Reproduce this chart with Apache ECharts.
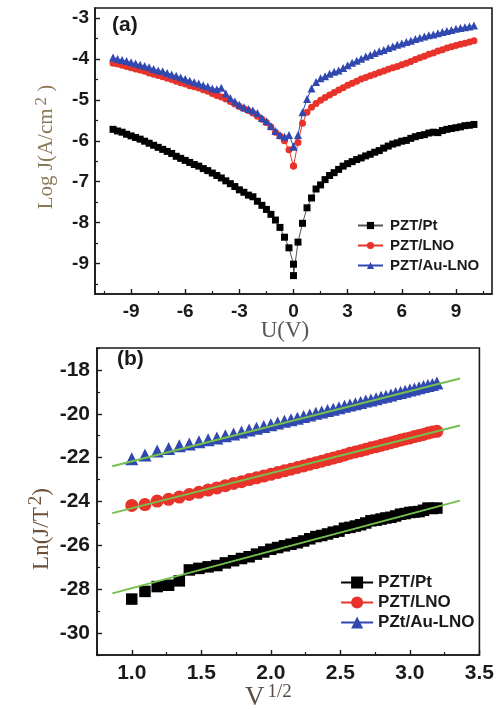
<!DOCTYPE html>
<html><head><meta charset="utf-8">
<script src="https://cdn.jsdelivr.net/npm/echarts@6/dist/echarts.min.js"></script>
<style>html,body{margin:0;padding:0;background:#fff}#c{width:497px;height:710px}</style>
</head><body><div id="c"></div>
<script>
// ---- Panel (a): Log J vs U ----
const voltsA = [-10,-9.75,-9.5,-9.25,-9,-8.75,-8.5,-8.25,-8,-7.75,-7.5,-7.25,-7,-6.75,-6.5,-6.25,-6,-5.75,-5.5,-5.25,-5,-4.75,-4.5,-4.25,-4,-3.75,-3.5,-3.25,-3,-2.75,-2.5,-2.25,-2,-1.75,-1.5,-1.25,-1,-0.75,-0.5,-0.25,0,0,0.25,0.5,0.75,1,1.25,1.5,1.75,2,2.25,2.5,2.75,3,3.25,3.5,3.75,4,4.25,4.5,4.75,5,5.25,5.5,5.75,6,6.25,6.5,6.75,7,7.25,7.5,7.75,8,8.25,8.5,8.75,9,9.25,9.5,9.75,10];
const logJ_Pt = [-5.72,-5.76,-5.79,-5.84,-5.88,-5.92,-5.96,-6.01,-6.06,-6.11,-6.16,-6.21,-6.26,-6.31,-6.38,-6.43,-6.48,-6.53,-6.58,-6.62,-6.68,-6.73,-6.79,-6.85,-6.91,-6.98,-7.05,-7.12,-7.20,-7.26,-7.33,-7.37,-7.48,-7.58,-7.68,-7.80,-7.94,-8.12,-8.36,-8.62,
 -9.02,-9.30,
 -8.48,-8.02,-7.64,-7.40,-7.18,-7.08,-6.95,-6.85,-6.78,-6.70,-6.62,-6.56,-6.51,-6.46,-6.42,-6.37,-6.33,-6.28,-6.24,-6.18,-6.13,-6.08,-6.05,-6.01,-5.99,-5.94,-5.90,-5.87,-5.85,-5.81,-5.79,-5.80,-5.75,-5.72,-5.70,-5.68,-5.66,-5.63,-5.62,-5.60];
const logJ_LNO = [-4.10,-4.12,-4.15,-4.18,-4.21,-4.24,-4.27,-4.30,-4.34,-4.37,-4.40,-4.43,-4.47,-4.50,-4.54,-4.58,-4.61,-4.65,-4.68,-4.71,-4.75,-4.79,-4.84,-4.89,-4.93,-4.98,-5.04,-5.10,-5.16,-5.21,-5.26,-5.32,-5.40,-5.47,-5.55,-5.66,-5.79,-5.88,-6.00,-6.22,
 -6.62,-6.62,
 -6.04,-5.57,-5.30,-5.18,-5.09,-5.01,-4.94,-4.88,-4.82,-4.76,-4.70,-4.64,-4.59,-4.54,-4.49,-4.45,-4.41,-4.37,-4.33,-4.29,-4.25,-4.21,-4.18,-4.14,-4.10,-4.06,-4.01,-3.97,-3.93,-3.88,-3.85,-3.80,-3.77,-3.73,-3.70,-3.67,-3.64,-3.61,-3.58,-3.55];
const logJ_AuLNO = [-3.96,-4.00,-4.02,-4.05,-4.08,-4.11,-4.14,-4.17,-4.20,-4.24,-4.28,-4.30,-4.34,-4.38,-4.41,-4.45,-4.49,-4.53,-4.57,-4.60,-4.64,-4.67,-4.72,-4.74,-4.70,-4.84,-4.95,-5.04,-5.12,-5.18,-5.22,-5.26,-5.32,-5.44,-5.52,-5.64,-5.76,-5.86,-5.90,-5.86,
 -6.14,-6.14,
 -5.86,-5.30,-4.98,-4.72,-4.56,-4.47,-4.42,-4.36,-4.31,-4.28,-4.22,-4.15,-4.09,-4.04,-3.99,-3.94,-3.90,-3.85,-3.81,-3.78,-3.73,-3.69,-3.65,-3.62,-3.58,-3.55,-3.51,-3.48,-3.45,-3.42,-3.40,-3.37,-3.34,-3.31,-3.29,-3.26,-3.24,-3.22,-3.20,-3.18];
const namesA = ['PZT/Pt','PZT/LNO','PZT/Au-LNO'];
const xTicksA = [-9,-6,-3,0,3,6,9];
const xMinorA = [-10.5,-7.5,-4.5,-1.5,1.5,4.5,7.5,10.5];
const yTicksA = [-9,-8,-7,-6,-5,-4,-3];
const yMinorA = [-9.5,-8.5,-7.5,-6.5,-5.5,-4.5,-3.5];

// ---- Panel (b): Ln(J/T^2) vs V^1/2 ----
const sqrtV = [1.000,1.095,1.183,1.265,1.342,1.414,1.483,1.549,1.612,1.673,1.732,1.789,1.844,1.897,1.949,2.000,2.049,2.098,2.145,2.191,2.236,2.280,2.324,2.366,2.408,2.449,2.490,2.530,2.569,2.608,2.646,2.683,2.720,2.757,2.793,2.828,2.864,2.898,2.933,2.966,3.000,3.033,3.066,3.098,3.130,3.162,3.194];
const lnJT2_Pt = [-28.45,-28.10,-27.88,-27.82,-27.62,-27.12,-27.05,-26.98,-26.92,-26.80,-26.70,-26.60,-26.52,-26.40,-26.30,-26.18,-26.10,-26.02,-25.95,-25.88,-25.80,-25.70,-25.60,-25.55,-25.48,-25.40,-25.35,-25.22,-25.18,-25.12,-25.06,-24.98,-24.88,-24.85,-24.80,-24.75,-24.72,-24.66,-24.58,-24.55,-24.50,-24.48,-24.46,-24.40,-24.30,-24.32,-24.30];
const lnJT2_LNO = [-24.18,-24.14,-23.98,-23.90,-23.80,-23.68,-23.58,-23.48,-23.38,-23.28,-23.18,-23.10,-23.00,-22.92,-22.84,-22.76,-22.68,-22.60,-22.53,-22.45,-22.38,-22.30,-22.23,-22.16,-22.09,-22.02,-21.95,-21.88,-21.80,-21.74,-21.68,-21.62,-21.55,-21.50,-21.44,-21.38,-21.32,-21.26,-21.20,-21.15,-21.10,-21.04,-20.99,-20.94,-20.88,-20.83,-20.80];
const lnJT2_AuLNO = [-22.05,-21.88,-21.70,-21.58,-21.46,-21.38,-21.28,-21.18,-21.10,-21.00,-20.92,-20.83,-20.74,-20.66,-20.58,-20.50,-20.42,-20.34,-20.27,-20.20,-20.12,-20.05,-19.98,-19.92,-19.85,-19.79,-19.72,-19.66,-19.60,-19.54,-19.48,-19.42,-19.37,-19.31,-19.25,-19.20,-19.14,-19.08,-19.03,-18.97,-18.92,-18.87,-18.81,-18.76,-18.71,-18.66,-18.60];
const fitX = [0.86, 3.36];
const fit_Pt = [-28.19, -23.96];
const fit_LNO = [-24.53, -20.53];
const fit_AuLNO = [-22.39, -18.39];
const namesB = ['PZT/Pt','PZT/LNO','PZt/Au-LNO'];
const xTicksB = [1.0,1.5,2.0,2.5,3.0,3.5];
const xMinorB = [0.75,1.25,1.75,2.25,2.75,3.25];
const yTicksB = [-30,-28,-26,-24,-22,-20,-18];
const yMinorB = [-31,-29,-27,-25,-23,-21,-19,-17];

const zip = (xs, ys) => xs.map((x, i) => [x, ys[i]]);
const AX = '#1a1a1a';
const SANS = 'Liberation Sans, Arial, sans-serif';
const SERIF = 'Liberation Serif, Times New Roman, serif';
const RED = '#e8332a', BLUE = '#3048b0', GREEN = '#74c04e';

function mainAxis(grid, min, max, ticks, fs, margin, fmt, isX) {
  return {
    gridIndex: grid, type: 'value', min: min, max: max, position: isX ? 'bottom' : 'left',
    axisLine: { show: true, onZero: false, lineStyle: { color: AX, width: 1.6 } },
    axisTick: { show: true, inside: true, length: 5, customValues: ticks, lineStyle: { color: AX, width: 1.4 } },
    axisLabel: { show: true, customValues: ticks, formatter: fmt, fontFamily: SANS, fontWeight: 'bold', fontSize: fs, color: '#1a1a1a', margin: margin },
    splitLine: { show: false }
  };
}
function minorAxis(grid, min, max, ticks, isX) {
  return {
    gridIndex: grid, type: 'value', min: min, max: max, position: isX ? 'bottom' : 'left',
    axisLine: { show: false, onZero: false },
    axisTick: { show: true, inside: true, length: 3, customValues: ticks, lineStyle: { color: AX, width: 1.2 } },
    axisLabel: { show: false }, splitLine: { show: false }
  };
}
const intFmt = v => String(Math.round(v));
const decFmt = v => v.toFixed(1);

const option = {
  animation: false,
  backgroundColor: '#fff',
  grid: [
    { left: 95, top: 8, width: 397, height: 286, show: true, borderColor: AX, borderWidth: 1.6 },
    { left: 97, top: 348, width: 395, height: 307, show: true, borderColor: AX, borderWidth: 1.6 }
  ],
  xAxis: [
    mainAxis(0, -11, 11, xTicksA, 19, 8, intFmt, true),
    minorAxis(0, -11, 11, xMinorA, true),
    mainAxis(1, 0.75, 3.5, xTicksB, 21, 8, decFmt, true),
    minorAxis(1, 0.75, 3.5, xMinorB, true)
  ],
  yAxis: [
    mainAxis(0, -9.75, -2.75, yTicksA, 19, 6, intFmt, false),
    minorAxis(0, -9.75, -2.75, yMinorA, false),
    mainAxis(1, -31, -17, yTicksB, 21, 7, intFmt, false),
    minorAxis(1, -31, -17, yMinorB, false)
  ],
  legend: [
    {
      data: namesA.map(n => 'a|' + n), formatter: n => n.slice(2), selectedMode: false,
      orient: 'vertical', left: 352, top: 213, itemWidth: 25, itemHeight: 9, itemGap: 5,
      textStyle: { fontFamily: SANS, fontWeight: 'bold', fontSize: 15, color: '#1a1a1a', padding: [0, 0, 0, 2] }
    },
    {
      data: namesB.map(n => 'b|' + n), formatter: n => n.slice(2), selectedMode: false,
      orient: 'vertical', left: 335, top: 569, itemWidth: 32, itemHeight: 15, itemGap: 3,
      lineStyle: { width: 2.2, opacity: 1 },
      textStyle: { fontFamily: SANS, fontWeight: 'bold', fontSize: 17, color: '#1a1a1a' }
    }
  ],
  series: [
    { name: 'a|' + namesA[0], type: 'line', xAxisIndex: 0, yAxisIndex: 0, data: zip(voltsA, logJ_Pt),
      symbol: 'rect', symbolSize: 7, color: '#000', lineStyle: { width: 1, color: '#555' }, itemStyle: { color: '#000' } },
    { name: 'a|' + namesA[1], type: 'line', xAxisIndex: 0, yAxisIndex: 0, data: zip(voltsA, logJ_LNO),
      symbol: 'circle', symbolSize: 7, color: RED, lineStyle: { width: 1, color: RED }, itemStyle: { color: RED } },
    { name: 'a|' + namesA[2], type: 'line', xAxisIndex: 0, yAxisIndex: 0, data: zip(voltsA, logJ_AuLNO),
      symbol: 'triangle', symbolSize: 8, color: BLUE, lineStyle: { width: 1, color: BLUE }, itemStyle: { color: BLUE } },

    { name: 'b|' + namesB[0], type: 'line', xAxisIndex: 2, yAxisIndex: 2, data: zip(sqrtV, lnJT2_Pt),
      symbol: 'rect', symbolSize: 11.5, color: '#000', lineStyle: { opacity: 0, color: '#000' }, itemStyle: { color: '#000' } },
    { name: 'b|' + namesB[1], type: 'line', xAxisIndex: 2, yAxisIndex: 2, data: zip(sqrtV, lnJT2_LNO),
      symbol: 'circle', symbolSize: 13, color: RED, lineStyle: { opacity: 0, color: RED }, itemStyle: { color: RED } },
    { name: 'b|' + namesB[2], type: 'line', xAxisIndex: 2, yAxisIndex: 2, data: zip(sqrtV, lnJT2_AuLNO),
      symbol: 'triangle', symbolSize: 13, color: BLUE, lineStyle: { opacity: 0, color: BLUE }, itemStyle: { color: BLUE } },

    { name: 'fitPt', type: 'line', xAxisIndex: 2, yAxisIndex: 2, data: zip(fitX, fit_Pt), symbol: 'none', z: 5,
      lineStyle: { color: GREEN, width: 2 } },
    { name: 'fitLNO', type: 'line', xAxisIndex: 2, yAxisIndex: 2, data: zip(fitX, fit_LNO), symbol: 'none', z: 5,
      lineStyle: { color: GREEN, width: 2 } },
    { name: 'fitAu', type: 'line', xAxisIndex: 2, yAxisIndex: 2, data: zip(fitX, fit_AuLNO), symbol: 'none', z: 5,
      lineStyle: { color: GREEN, width: 2 } }
  ],
  graphic: [
    { type: 'text', left: 112, top: 15, style: { text: '(a)', fontFamily: SANS, fontWeight: 'bold', fontSize: 21, fill: '#1a1a1a' } },
    { type: 'text', left: 117, top: 349, style: { text: '(b)', fontFamily: SANS, fontWeight: 'bold', fontSize: 21, fill: '#1a1a1a' } },
    { type: 'text', x: 285, y: 331, style: { text: 'U(V)', fontFamily: SERIF, fontSize: 23, fill: '#555', align: 'center', verticalAlign: 'middle' } },
    { type: 'text', x: 245, y: 697, style: {
        text: '{v|V}{s|1/2}', align: 'left', verticalAlign: 'middle',
        rich: { v: { fontFamily: SERIF, fontSize: 27, fill: '#5a4a40', color: '#5a4a40', verticalAlign: 'bottom' },
                s: { fontFamily: SERIF, fontSize: 19, fill: '#5a4a40', color: '#5a4a40', verticalAlign: 'top', padding: [0, 0, 10, 3] } } } },
    { type: 'text', x: 45, y: 147, rotation: Math.PI / 2, style: {
        text: '{t|Log J(A/cm}{s|2}{t| )}', align: 'center', verticalAlign: 'middle',
        rich: { t: { fontFamily: SERIF, fontSize: 21, fill: '#8a7858', color: '#8a7858', verticalAlign: 'bottom' },
                s: { fontFamily: SERIF, fontSize: 17, fill: '#8a7858', color: '#8a7858', verticalAlign: 'top', padding: [0, 0, 6, 3] } } } },
    { type: 'text', x: 40, y: 529, rotation: Math.PI / 2, style: {
        text: '{t|Ln(J/T}{s|2}{t|)}', align: 'center', verticalAlign: 'middle',
        rich: { t: { fontFamily: SERIF, fontSize: 23, fill: '#6e5038', color: '#6e5038', verticalAlign: 'bottom' },
                s: { fontFamily: SERIF, fontSize: 19, fill: '#6e5038', color: '#6e5038', verticalAlign: 'top', padding: [0, 0, 8, 2] } } } }
  ]
};
const chart = echarts.init(document.getElementById('c'), null, { renderer: 'canvas' });
chart.setOption(option);
</script></body></html>
